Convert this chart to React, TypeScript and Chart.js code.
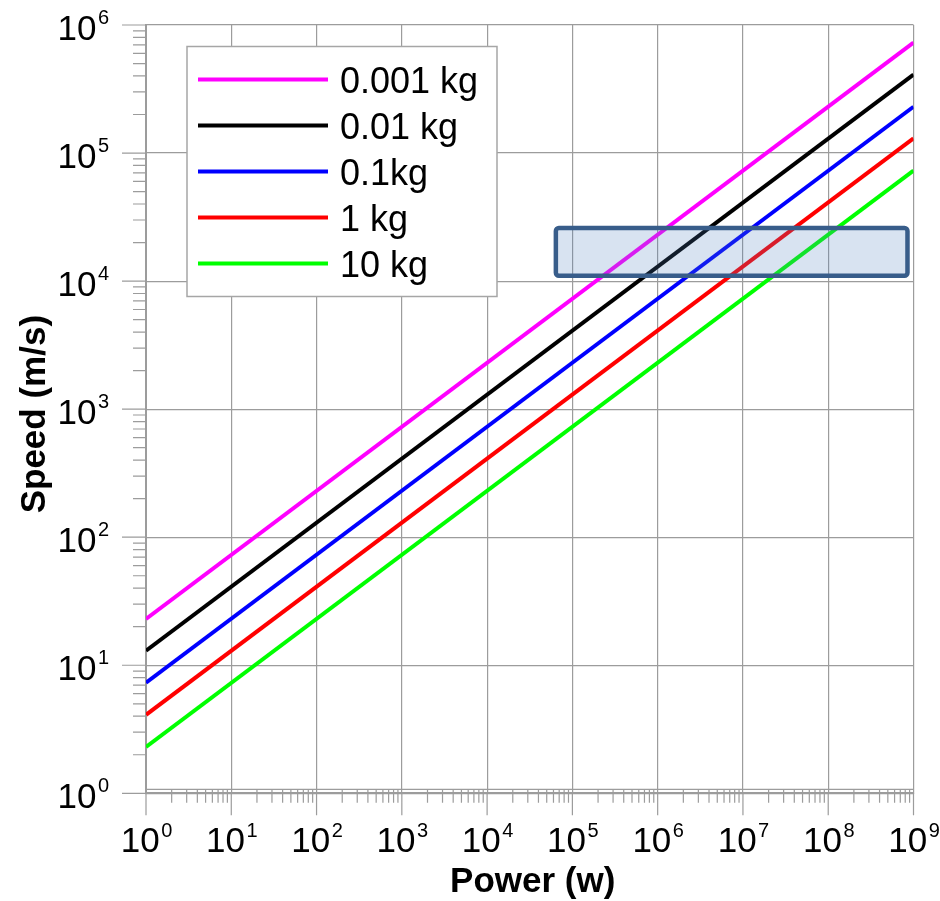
import { useEffect, useRef } from "react";
import { Chart, registerables } from "chart.js";

Chart.register(...registerables);

// ---- data ----
const massLabels = ["0.001 kg", "0.01 kg", "0.1kg", "1 kg", "10 kg"];
const seriesColors = ["#ff00ff", "#000000", "#0000ff", "#ff0000", "#00ff00"];
const powerPoints = [1, 1e9];
const speed0001kg = [23, 7.3e5];
const speed001kg = [13, 4.1e5];
const speed01kg = [7.3, 2.3e5];
const speed1kg = [4.1, 1.3e5];
const speed10kg = [2.3, 7.3e4];
const xDecadeExponents = [0, 1, 2, 3, 4, 5, 6, 7, 8, 9];
const yDecadeExponents = [0, 1, 2, 3, 4, 5, 6];
const minorMultipliers = [2, 3, 4, 5, 6, 7, 8, 9];
const boxPower = [6.4e4, 8.5e8];
const boxSpeed = [1.1e4, 2.6e4];
const xTitle = "Power (w)";
const yTitle = "Speed (m/s)";

const FONT = 'Arial, "Liberation Sans", Helvetica, sans-serif';
const GRID = "#9c9c9c";

function drawPow(
  ctx: CanvasRenderingContext2D,
  exp: number,
  x: number,
  baseline: number,
  align: "center" | "right"
) {
  ctx.save();
  ctx.font = `35px ${FONT}`;
  const w1 = ctx.measureText("10").width;
  ctx.font = `20px ${FONT}`;
  const w2 = ctx.measureText(String(exp)).width;
  const gap = 1.5;
  const total = w1 + gap + w2;
  const x0 = align === "center" ? x - total / 2 : x - total;
  ctx.textAlign = "left";
  ctx.textBaseline = "alphabetic";
  ctx.fillStyle = "#000";
  ctx.font = `35px ${FONT}`;
  ctx.fillText("10", x0, baseline);
  ctx.font = `20px ${FONT}`;
  ctx.fillText(String(exp), x0 + w1 + gap, baseline - 15.5);
  ctx.restore();
}

const overlayPlugin = {
  id: "overlay",
  afterDatasetsDraw(chart: any) {
    const { ctx, chartArea: a, scales } = chart;
    const xs = scales.x;
    const ys = scales.y;
    ctx.save();

    // highlighted box
    const bx0 = xs.getPixelForValue(boxPower[0]);
    const bx1 = xs.getPixelForValue(boxPower[1]);
    const by0 = ys.getPixelForValue(boxSpeed[1]);
    const by1 = ys.getPixelForValue(boxSpeed[0]);
    ctx.beginPath();
    if ((ctx as any).roundRect) (ctx as any).roundRect(bx0, by0, bx1 - bx0, by1 - by0, 3);
    else ctx.rect(bx0, by0, bx1 - bx0, by1 - by0);
    ctx.fillStyle = "rgba(79,129,189,0.22)";
    ctx.fill();
    ctx.lineWidth = 4.5;
    ctx.strokeStyle = "#385d8a";
    ctx.stroke();

    // ticks
    ctx.strokeStyle = GRID;
    ctx.lineWidth = 1.2;
    ctx.beginPath();
    xDecadeExponents.forEach((d, i) => {
      const px = xs.getPixelForValue(Math.pow(10, d));
      ctx.moveTo(px, a.bottom);
      ctx.lineTo(px, a.bottom + 22);
      if (i < xDecadeExponents.length - 1) {
        minorMultipliers.forEach((m) => {
          const mx = xs.getPixelForValue(m * Math.pow(10, d));
          ctx.moveTo(mx, a.bottom - 4);
          ctx.lineTo(mx, a.bottom + 9.5);
        });
      }
    });
    ctx.moveTo(a.left, a.bottom - 4);
    ctx.lineTo(a.right, a.bottom - 4);
    yDecadeExponents.forEach((d, i) => {
      const py = ys.getPixelForValue(Math.pow(10, d));
      ctx.moveTo(a.left - 24, py);
      ctx.lineTo(a.left, py);
      if (i < yDecadeExponents.length - 1) {
        minorMultipliers.forEach((m) => {
          const my = ys.getPixelForValue(m * Math.pow(10, d));
          ctx.moveTo(a.left - 13, my);
          ctx.lineTo(a.left + 1, my);
        });
      }
    });
    ctx.stroke();

    // tick labels
    xDecadeExponents.forEach((d) => {
      const px = xs.getPixelForValue(Math.pow(10, d));
      drawPow(ctx, d, px + 0.5, a.bottom + 59, "center");
    });
    yDecadeExponents.forEach((d) => {
      const py = ys.getPixelForValue(Math.pow(10, d));
      drawPow(ctx, d, 109, py + 14.5, "right");
    });

    // axis titles
    ctx.fillStyle = "#000";
    ctx.font = `bold 35px ${FONT}`;
    ctx.textAlign = "center";
    ctx.textBaseline = "alphabetic";
    ctx.fillText(xTitle, (a.left + a.right) / 2 + 3, 892);
    ctx.save();
    ctx.translate(45, (a.top + a.bottom) / 2 + 5);
    ctx.rotate(-Math.PI / 2);
    ctx.font = `bold 35px ${FONT}`;
    ctx.fillText(yTitle, 0, 0);
    ctx.restore();

    // legend
    const lx0 = 187, ly0 = 46.5, lx1 = 497, ly1 = 296.5;
    ctx.fillStyle = "#ffffff";
    ctx.fillRect(lx0, ly0, lx1 - lx0, ly1 - ly0);
    ctx.strokeStyle = "#a6a6a6";
    ctx.lineWidth = 1.5;
    ctx.strokeRect(lx0, ly0, lx1 - lx0, ly1 - ly0);
    chart.data.datasets.forEach((ds: any, i: number) => {
      const y = 79.5 + i * 46;
      ctx.strokeStyle = ds.borderColor;
      ctx.lineWidth = 4;
      ctx.beginPath();
      ctx.moveTo(198, y);
      ctx.lineTo(328, y);
      ctx.stroke();
      ctx.fillStyle = "#000";
      ctx.font = `36px ${FONT}`;
      ctx.textAlign = "left";
      ctx.textBaseline = "alphabetic";
      ctx.fillText(ds.label, 340, y + 13);
    });

    ctx.restore();
  },
};

export default function App() {
  const ref = useRef<HTMLCanvasElement | null>(null);

  useEffect(() => {
    const canvas = ref.current;
    if (!canvas) return;
    const series = [speed0001kg, speed001kg, speed01kg, speed1kg, speed10kg];
    const chart = new Chart(canvas, {
      type: "line",
      data: {
        datasets: series.map((vals, i) => ({
          label: massLabels[i],
          data: powerPoints.map((p, j) => ({ x: p, y: vals[j] })),
          borderColor: seriesColors[i],
          backgroundColor: seriesColors[i],
          borderWidth: 4,
          pointRadius: 0,
          fill: false,
          tension: 0,
        })),
      },
      options: {
        responsive: false,
        animation: false,
        events: [],
        layout: { padding: { left: 146, right: 26.5, top: 25, bottom: 107.7 } },
        plugins: {
          legend: { display: false },
          tooltip: { enabled: false },
          title: { display: false },
        },
        scales: {
          x: {
            type: "logarithmic",
            min: 1,
            max: 1e9,
            ticks: { display: false },
            title: { display: false },
            grid: {
              drawTicks: false,
              lineWidth: 1.2,
              color: (c: any) => (c.tick && c.tick.major ? GRID : "rgba(0,0,0,0)"),
            },
            border: { display: true, color: GRID, width: 2 },
          },
          y: {
            type: "logarithmic",
            min: 1,
            max: 1e6,
            ticks: { display: false },
            title: { display: false },
            grid: {
              drawTicks: false,
              lineWidth: 1.2,
              color: (c: any) => (c.tick && c.tick.major ? GRID : "rgba(0,0,0,0)"),
            },
            border: { display: true, color: GRID, width: 2 },
          },
        },
      },
      plugins: [overlayPlugin],
    });
    return () => chart.destroy();
  }, []);

  return (
    <div style={{ position: "absolute", left: 0, top: 0, width: 940, height: 901, background: "#fff" }}>
      <canvas ref={ref} width={940} height={901} style={{ display: "block" }} />
    </div>
  );
}
